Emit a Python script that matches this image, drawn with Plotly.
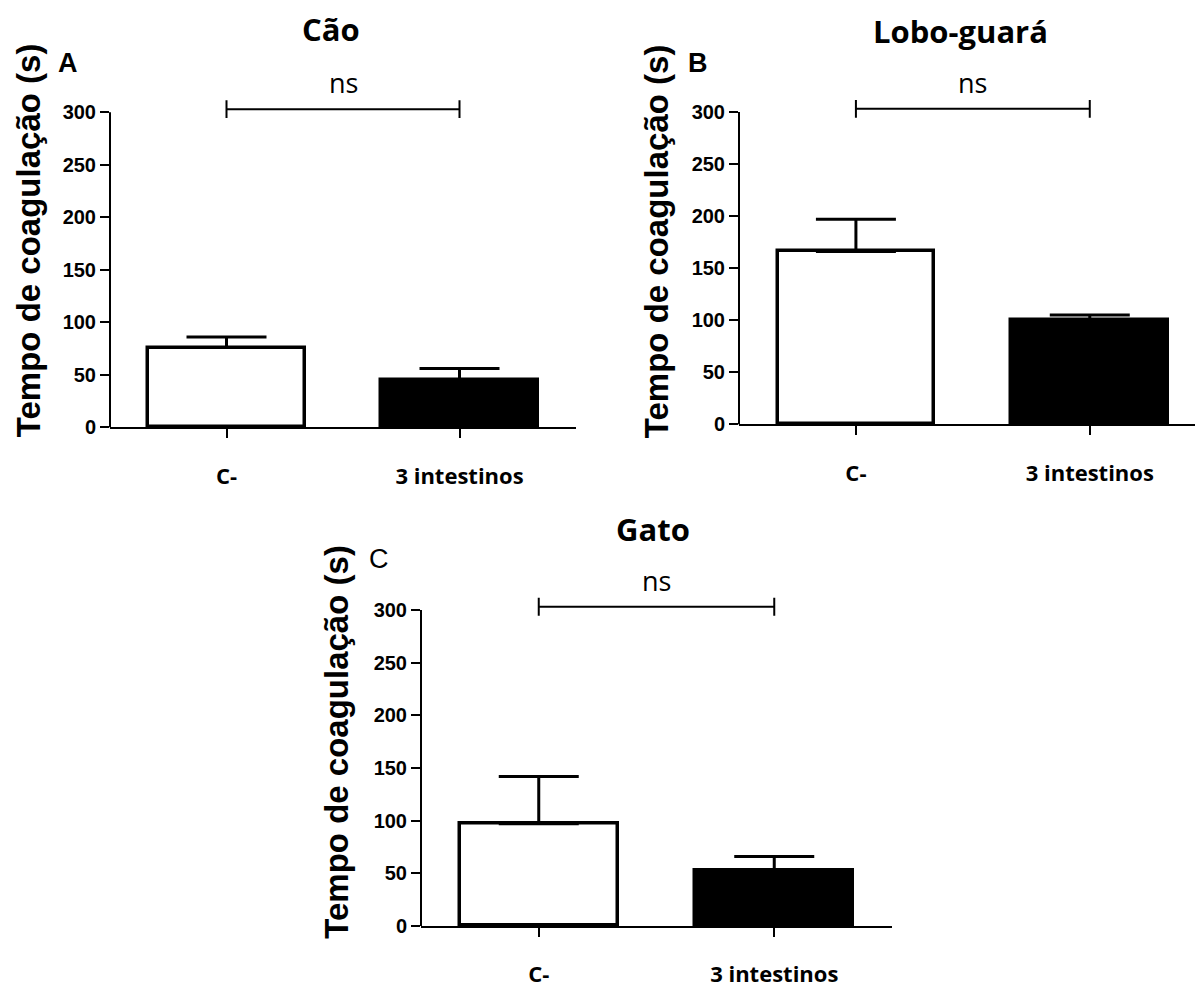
import plotly.graph_objects as go

# ---------------- data ----------------
categories = ["C-", "3 intestinos"]
panel_titles = ["Cão", "Lobo-guará", "Gato"]
panel_letters = ["A", "B", "C"]
means_cao = [76, 45]
sem_cao = [10, 11]
means_lobo = [166, 100]
sem_lobo = [31, 5]
means_gato = [97, 53]
sem_gato = [45, 13]
y_ticks = [0, 50, 100, 150, 200, 250, 300]
sig_label = "ns"
y_title = "Tempo de coagulação (s)"

W, H = 1195, 1000
K = 0.988  # vertical compensation observed in the rendered picture


def fx(p):
    return p / W


def fy(p):
    return 1 - (p / K) / H


NUM_FONT = "Liberation Sans"
TXT_FONT = "Open Sans"

# panel geometry (pixels): x-domain, y-domain (top,bottom), x-range
panels = [
    dict(mean=means_cao, err=sem_cao, xd=(110, 576), yd=(65, 427), xr=[-0.5, 1.5],
         title=(331, 29), letter=(68, 63), ytitle=(28, 240), letter_bold=True),
    dict(mean=means_lobo, err=sem_lobo, xd=(739, 1195), yd=(65, 424), xr=[-0.5, 1.45],
         title=(960, 31), letter=(698, 63), ytitle=(656, 241), letter_bold=True),
    dict(mean=means_gato, err=sem_gato, xd=(421, 892), yd=(562, 925), xr=[-0.5, 1.5],
         title=(653, 528), letter=(379, 558), ytitle=(337, 741), letter_bold=False),
]

fig = go.Figure()
annotations = []
shapes = []

for i, p in enumerate(panels):
    n = "" if i == 0 else str(i + 1)
    xa, ya = "x" + n, "y" + n
    fig.add_trace(go.Bar(
        x=[0, 1], y=p["mean"], width=0.67,
        marker=dict(color=["white", "black"], line=dict(color="black", width=3.5)),
        error_y=dict(type="data", symmetric=False, array=p["err"], arrayminus=[0, 0],
                     color="black", thickness=3, width=40),
        xaxis=xa, yaxis=ya, showlegend=False, hoverinfo="skip",
    ))
    fig.update_layout(**{
        "xaxis" + n: dict(
            domain=[fx(p["xd"][0]), fx(p["xd"][1])], range=p["xr"], anchor=ya,
            tickvals=[0, 1], ticktext=categories, showline=True, linecolor="black",
            linewidth=2, ticks="outside", ticklen=9, tickwidth=2, tickcolor="black",
            showgrid=False, zeroline=False, ticklabelstandoff=19,
            tickfont=dict(family=TXT_FONT, size=22, color="black", weight="bold"),
            fixedrange=True,
        ),
        "yaxis" + n: dict(
            domain=[fy(p["yd"][1]), fy(p["yd"][0])], range=[0, 345], anchor=xa,
            tickvals=y_ticks, showline=False, ticks="outside", ticklen=9, tickwidth=2,
            tickcolor="black", showgrid=False, zeroline=False,
            tickfont=dict(family=NUM_FONT, size=20, color="black", weight="bold"),
            fixedrange=True,
        ),
    })
    # y spine from 0 to 300
    shapes.append(dict(type="line", xref=xa + " domain", yref=ya, x0=0, x1=0,
                       y0=y_ticks[0], y1=y_ticks[-1], line=dict(color="black", width=2)))
    # significance bracket
    shapes.append(dict(type="line", xref=xa, yref=ya, x0=0, x1=1, y0=303, y1=303,
                       line=dict(color="black", width=2)))
    for xe in (0, 1):
        shapes.append(dict(type="line", xref=xa, yref=ya, x0=xe, x1=xe, y0=294.5, y1=311.5,
                           line=dict(color="black", width=2)))
    annotations.append(dict(xref=xa, yref=ya, x=0.5, y=328, text=sig_label, showarrow=False,
                            xanchor="center", yanchor="middle",
                            font=dict(family=TXT_FONT, size=27, color="black")))
    # titles / letters / axis titles
    annotations.append(dict(xref="paper", yref="paper", x=fx(p["title"][0]), y=fy(p["title"][1]),
                            text=panel_titles[i], showarrow=False, xanchor="center",
                            yanchor="middle",
                            font=dict(family=TXT_FONT, size=31, color="black", weight="bold")))
    annotations.append(dict(xref="paper", yref="paper", x=fx(p["letter"][0]), y=fy(p["letter"][1]),
                            text=panel_letters[i], showarrow=False, xanchor="center",
                            yanchor="middle",
                            font=dict(family=NUM_FONT, size=27, color="black",
                                      weight="bold" if p["letter_bold"] else "normal")))
    annotations.append(dict(xref="paper", yref="paper", x=fx(p["ytitle"][0]), y=fy(p["ytitle"][1]),
                            text=y_title, showarrow=False, textangle=-90, xanchor="center",
                            yanchor="middle",
                            font=dict(family=NUM_FONT, size=33, color="black", weight="bold")))

fig.update_layout(
    width=W, height=H, margin=dict(l=0, r=0, t=0, b=0),
    paper_bgcolor="white", plot_bgcolor="white",
    annotations=annotations, shapes=shapes, bargap=0,
)

fig.write_html(
    "out.html",
    config={"displayModeBar": False},
    post_script=(
        "document.documentElement.style.margin='0';"
        "document.documentElement.style.overflow='hidden';"
        "document.body.style.margin='0';"
        "document.body.style.overflow='hidden';"
    ),
)
